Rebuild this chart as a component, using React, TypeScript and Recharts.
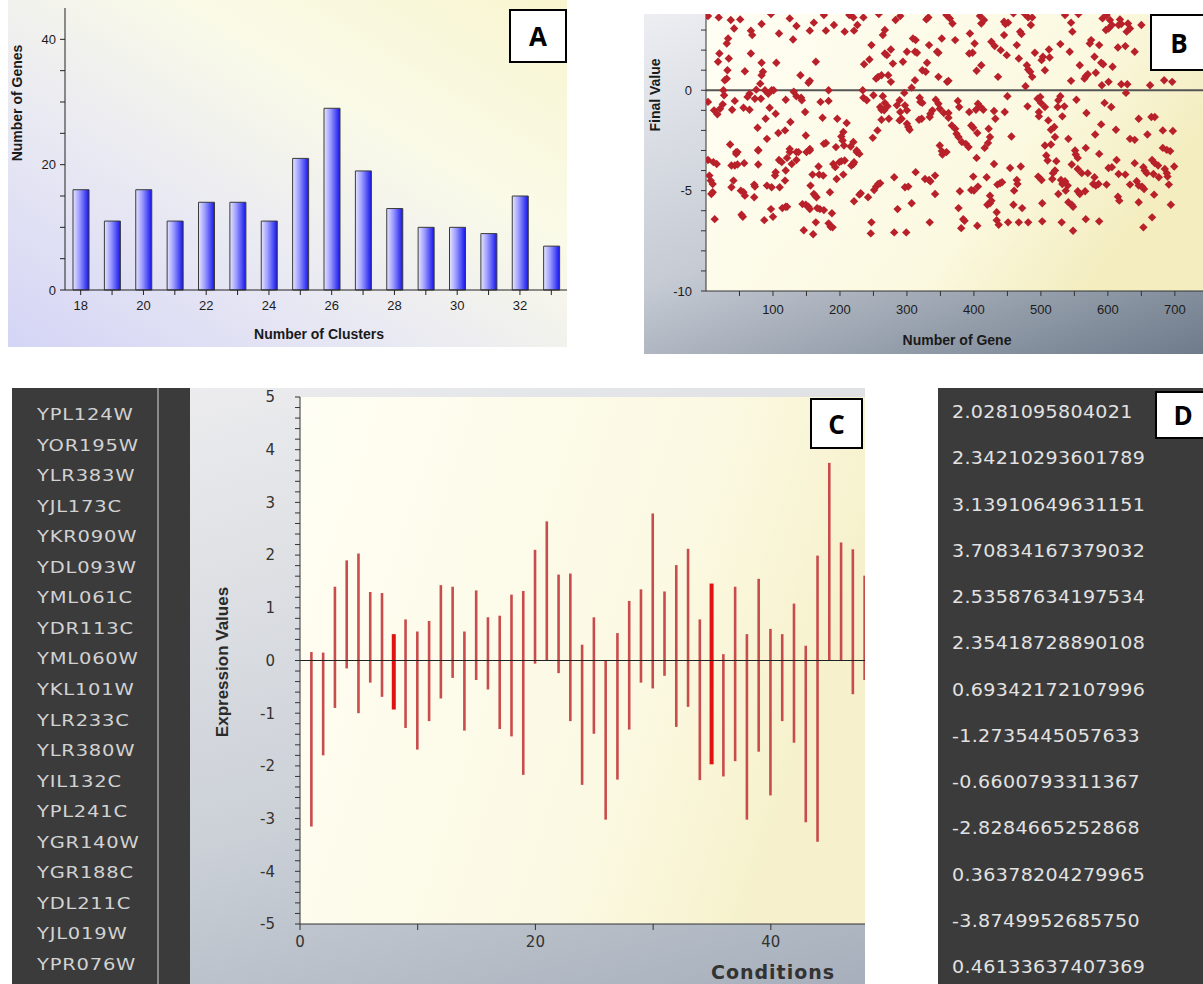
import React from 'react';
import {
  BarChart,
  Bar,
  XAxis,
  YAxis,
  ScatterChart,
  Scatter,
  ComposedChart,
  ReferenceLine,
  CartesianGrid,
  Label,
} from 'recharts';

// ---------- Panel A : genes per cluster count ----------
const clusterCounts = [18, 19, 20, 21, 22, 23, 24, 25, 26, 27, 28, 29, 30, 31, 32, 33];
const genesPerCluster = [16, 11, 16, 11, 14, 14, 11, 21, 29, 19, 13, 10, 10, 9, 15, 7];
const clusterYTicks = [0, 5, 10, 15, 20, 25, 30, 35, 40];
const clusterYLabels = [0, 20, 40];

// ---------- Panel B : final value per gene (gene index, final value) ----------
const geneScatter: [number, number][] = [
  [3, 3.7], [19, 3.63], [31, 2.33], [33, 2.58], [20, 1.83], [18, 1.42], [34, 1.58], [32, 1.0], [31, 0.58], [28, 0.5],
  [26, 0], [27, -0.25], [25, -0.7], [21, -0.92], [12, -1.0], [17, -1.2], [3, -0.58], [39, -0.97], [43, -0.53], [36, -2.7],
  [45, -3.08], [37, 3.5], [51, 3.53], [42, 3.08], [67, 2.97], [69, 2.75], [67, 1.83], [83, 3.3], [58, 0.95], [83, 1.37],
  [85, 0.92], [83, 0.75], [81, 0.33], [75, 0.03], [65, -0.17], [62, -0.33], [73, -0.42], [82, -0.42], [56, -0.87], [65, -0.97],
  [88, 0], [93, -0.17], [98, 0], [95, -0.87], [89, -1.42], [77, -1.87], [91, -2.42], [78, -2.97], [97, 3.8], [109, 2.83],
  [105, 1.37], [101, 0], [104, -1.17], [119, -0.47], [125, 3.58], [135, 3.2], [130, 2.53], [141, 0.75], [131, -0.07], [135, -0.3],
  [142, -0.37], [143, -0.5], [148, -1.08], [126, -1.58], [118, -2.0], [108, -2.13], [125, -2.92], [149, -2.25], [135, -3.08], [155, 2.97],
  [161, 3.37], [164, 1.42], [155, 0.47], [153, 0.37], [171, -0.58], [183, -0.53], [183, 0], [174, -1.37], [155, -2.92], [176, -2.67],
  [179, -2.63], [176, 3.75], [179, 2.97], [191, 3.25], [207, 2.92], [214, 3.75], [220, 3.63], [221, 2.97], [226, 3.25], [235, 3.63],
  [196, -1.42], [210, -1.63], [205, -2.08], [202, -2.3], [204, -2.5], [194, -2.83], [206, -2.75], [216, -2.8], [220, -2.58], [225, -3.0],
  [236, 1.3], [244, 1.53], [247, 2.25], [234, 0], [235, -0.37], [240, -0.5], [258, 3.8], [264, 2.75], [267, 3.0], [267, 1.83],
  [270, 1.75], [276, 2.03], [279, 1.33], [254, 0.58], [257, 0.67], [262, 0.75], [272, 0.75], [276, 0.42], [250, -0.25], [264, -0.3],
  [267, -0.63], [260, -0.83], [262, -0.97], [266, -1.0], [271, -0.8], [262, -1.47], [273, -1.42], [256, -2.0], [249, -2.37], [283, 3.5],
  [290, 3.7], [289, -0.5], [285, -0.75], [290, -1.08], [292, -1.42], [289, -1.5], [294, 1.42], [300, 1.92], [312, 1.92], [315, 1.87],
  [313, 2.5], [309, 2.58], [329, 3.53], [332, 3.63], [333, 2.25], [345, 1.92], [347, 1.87], [330, 1.37], [323, 1.0], [328, 0.92],
  [347, 0.67], [360, 0.42], [352, 2.58], [359, 3.75], [312, 0.5], [307, 0.13], [296, -0.13], [297, -0.75], [300, -1.0], [319, -0.37],
  [320, -0.58], [323, -0.63], [343, -0.47], [347, -0.67], [349, -0.92], [338, -1.0], [335, -1.17], [322, -1.42], [318, -1.47], [334, -1.33],
  [355, -1.13], [362, -1.37], [300, -1.67], [302, -1.83], [304, -1.97], [349, -2.75], [352, -3.03],
  [3, -3.47], [11, -3.58], [16, -3.67], [5, -4.25], [7, -4.5], [10, -4.67], [10, -5.08], [8, -5.17], [13, -6.42], [45, -3.17],
  [47, -3.08], [38, -3.75], [43, -3.75], [47, -3.7], [57, -3.63], [41, -4.5], [38, -4.83], [52, -5.0], [56, -5.08], [58, -5.25],
  [72, -4.7], [73, -4.8], [72, -5.33], [78, -3.7], [78, -3.0], [53, -6.2], [55, -6.3], [87, -6.47], [97, -5.92], [100, -6.3],
  [91, -4.75], [98, -4.83], [103, -4.25], [104, -4.08], [109, -3.47], [113, -3.58], [110, -4.83], [118, -4.5], [119, -4.0], [121, -3.37],
  [125, -3.08], [128, -3.67], [135, -3.47], [138, -3.08], [150, -3.08], [155, -3.0], [114, -5.87], [119, -5.8], [121, -5.8], [144, -5.67],
  [149, -5.7], [153, -5.8], [155, -5.92], [146, -6.97], [160, -7.17], [164, -6.58], [166, -5.87], [170, -5.92], [176, -5.97], [163, -5.25],
  [165, -5.33], [161, -5.17], [156, -4.75], [159, -4.2], [168, -3.8], [169, -4.2], [175, -4.25], [185, -5.08], [188, -6.13], [183, -6.63],
  [186, -6.8], [189, -6.83], [190, -3.67], [193, -3.83], [195, -4.42], [199, -3.58], [205, -4.2], [202, -3.53], [207, -3.5], [217, -3.75],
  [220, -3.67], [221, -3.58], [225, -3.08], [229, -3.17], [221, -5.53], [229, -5.2], [231, -5.13], [242, -5.33], [251, -4.97], [254, -4.8],
  [257, -4.67], [260, -4.63], [247, -6.58], [246, -7.13], [281, -4.33], [286, -5.92], [281, -7.08], [299, -7.08], [297, -4.83], [302, -4.8],
  [307, -5.63], [313, -4.08], [327, -4.42], [333, -4.47], [335, -4.53], [342, -4.25], [342, -5.17], [334, -6.58], [353, -3.2],
  [364, 3.58], [368, 3.33], [362, 0.47], [372, 2.5], [394, 2.83], [398, 1.87], [393, 1.83], [401, 2.33], [404, 0.97], [411, 1.25],
  [409, 3.7], [411, 3.33], [415, 3.5], [426, 2.42], [431, 2.2], [436, 0.67], [440, 2.0], [445, 3.42], [447, 3.3], [451, 3.37],
  [445, 2.75], [449, 1.75], [459, 3.83], [464, 2.25], [469, 2.92], [471, 2.8], [467, 1.58], [476, 3.8], [481, 3.63], [485, 3.25],
  [487, 3.63], [479, 1.25], [481, 1.03], [484, 0.92], [487, 0.67], [477, 0.2], [491, 1.87], [501, 1.5], [506, 1.0], [503, 1.67],
  [512, 2.03], [513, 1.63], [529, 2.3], [536, 3.75], [543, 1.92], [545, 3.37], [547, 2.92], [545, 0.47], [556, 3.8], [558, 1.25],
  [565, 0.58], [567, 0.7], [570, 0.8], [575, 2.5], [573, 2.33], [580, 1.67], [582, 0.87], [587, 2.25], [590, 1.37], [592, 3.58],
  [593, 1.3], [591, 0.25], [598, 3.75], [601, 0.42], [597, 3.0], [601, 3.08], [603, 3.5], [606, 3.25], [607, 1.17], [615, 2.13],
  [618, 3.53], [620, 3.3], [616, 3.25], [626, 2.2], [628, 2.92], [630, 3.33], [633, 3.08], [629, 0.3], [620, 0.3], [627, -0.13],
  [640, 1.92], [650, 3.25], [663, 0.25], [684, 0.5], [696, 0.42],
  [376, -0.53], [378, -0.83], [362, -1.13], [367, -1.75], [372, -1.92], [374, -2.17], [377, -2.33], [382, -2.58], [388, -2.67], [392, -2.83],
  [393, -1.08], [396, -1.75], [399, -1.87], [403, -0.97], [406, -0.67], [410, -0.83], [414, -0.97], [405, -2.13], [416, -2.87], [421, -2.63],
  [424, -2.33], [422, -1.92], [430, -1.03], [432, -1.42], [446, -1.08], [450, -0.3], [456, -2.3], [480, -0.8], [495, -0.42], [499, -0.33],
  [500, -0.63], [497, -1.08], [497, -1.3], [506, -0.83], [511, -1.5], [515, -1.97], [520, -1.83], [521, -2.33], [529, -0.3], [526, -0.5],
  [525, -0.83], [535, -0.8], [532, -1.3], [541, -2.42], [553, -0.47], [568, -1.13], [567, -2.87], [551, -3.0], [581, -2.2], [590, -1.7],
  [595, -0.63], [605, -0.83], [612, -1.97], [633, -2.42], [640, -2.47], [646, -1.42], [659, -2.2], [665, -1.33], [670, -1.33], [682, -2.0],
  [697, -2.03], [682, -2.87], [688, -2.97], [506, -2.75], [515, -2.7],
  [359, -3.08], [379, -5.03], [377, -5.87], [384, -6.42], [386, -6.5], [381, -6.87], [399, -4.3], [396, -4.97], [400, -5.0], [406, -4.8],
  [404, -3.37], [405, -6.75], [419, -4.33], [430, -3.67], [424, -5.25], [420, -5.7], [424, -5.63], [426, -5.5], [435, -4.7], [439, -4.63],
  [442, -4.58], [434, -6.08], [434, -6.47], [437, -6.7], [451, -6.58], [454, -3.87], [459, -5.7], [460, -5.0], [464, -4.47], [465, -4.67],
  [470, -3.8], [472, -5.87], [467, -6.58], [481, -6.58], [496, -4.3], [501, -4.47], [502, -5.63], [502, -6.53], [508, -3.25], [510, -3.5],
  [518, -4.13], [517, -4.42], [521, -4.0], [523, -3.53], [526, -5.17], [530, -4.47], [532, -4.67], [536, -4.53], [540, -4.75], [537, -5.0],
  [531, -6.58], [541, -5.58], [546, -5.7], [548, -5.8], [546, -3.7], [548, -7.0], [552, -3.2], [555, -3.37], [555, -3.92], [561, -4.13],
  [555, -5.03], [558, -5.17], [566, -5.03], [570, -4.13], [567, -6.42], [580, -4.33], [578, -4.67], [582, -4.75], [586, -4.67], [587, -6.53],
  [587, -3.17], [598, -4.7], [601, -3.87], [606, -3.83], [613, -3.47], [616, -4.17], [615, -5.3], [617, -5.5], [626, -4.2], [633, -4.7],
  [640, -3.63], [643, -4.53], [646, -4.75], [646, -5.58], [651, -4.8], [654, -4.92], [653, -3.83], [655, -4.0], [658, -4.13], [666, -3.47],
  [670, -3.63], [675, -3.75], [668, -4.17], [676, -4.33], [685, -3.92], [688, -4.13], [689, -4.3], [691, -4.7], [669, -5.2], [666, -6.33],
  [653, -6.83], [694, -5.7], [699, -3.8], [693, -3.03],
];
const geneXTicks = [50, 100, 150, 200, 250, 300, 350, 400, 450, 500, 550, 600, 650, 700];
const finalValueTicks = [-10, -9, -8, -7, -6, -5, -4, -3, -2, -1, 0, 1, 2, 3];

// ---------- Panel C : expression range per condition ----------
const conditionIds = [1, 2, 3, 4, 5, 6, 7, 8, 9, 10, 11, 12, 13, 14, 15, 16, 17, 18, 19, 20, 21, 22, 23, 24, 25, 26, 27, 28, 29, 30, 31, 32, 33, 34, 35, 36, 37, 38, 39, 40, 41, 42, 43, 44, 45, 46, 47, 48];
const exprLow = [-3.15, -1.8, -0.9, -0.15, -1.0, -0.42, -0.69, -0.93, -1.28, -1.69, -1.15, -0.72, -0.33, -1.33, -0.37, -0.55, -1.3, -1.44, -2.17, -0.06, 0, -0.24, -1.15, -2.36, -1.39, -3.02, -2.26, -1.31, -0.42, -0.53, -0.29, -1.26, -0.88, -2.27, -1.97, -2.2, -1.91, -3.02, -1.73, -2.56, -1.15, -1.56, -3.07, -3.44, 0, 0, -0.64, -0.37];
const exprHigh = [0.16, 0.15, 1.4, 1.9, 2.03, 1.3, 1.28, 0.5, 0.78, 0.55, 0.75, 1.43, 1.4, 0.55, 1.33, 0.82, 0.85, 1.25, 1.32, 2.1, 2.64, 1.63, 1.65, 0.3, 0.82, 0, 0.52, 1.13, 1.35, 2.79, 1.31, 1.81, 2.12, 0.78, 1.46, 0.12, 1.4, 0.5, 1.55, 0.6, 0.5, 1.08, 0.28, 1.99, 3.75, 2.24, 2.11, 1.61];
const highlightedConditions = [8, 35];
const conditionTicks = [0, 10, 20, 30, 40];
const conditionTopTicks = [10, 20, 30, 40];
const exprMajorTicks = [-5, -4, -3, -2, -1, 0, 1, 2, 3, 4, 5];

// ---------- Side texts ----------
const geneNames = ['YPL124W', 'YOR195W', 'YLR383W', 'YJL173C', 'YKR090W', 'YDL093W', 'YML061C', 'YDR113C', 'YML060W', 'YKL101W', 'YLR233C', 'YLR380W', 'YIL132C', 'YPL241C', 'YGR140W', 'YGR188C', 'YDL211C', 'YJL019W', 'YPR076W'];
const expressionReadout = ['2.0281095804021', '2.34210293601789', '3.13910649631151', '3.70834167379032', '2.53587634197534', '2.35418728890108', '0.69342172107996', '-1.2735445057633', '-0.6600793311367', '-2.8284665252868', '0.36378204279965', '-3.8749952685750', '0.46133637407369'];

const AXIS_FONT = '"Liberation Sans", Arial, sans-serif';

const clusterData = clusterCounts.map((c, i) => ({ clusters: c, genes: genesPerCluster[i] }));
const scatterData = geneScatter.map(([g, v]) => ({ gene: g, value: v }));
const conditionData = conditionIds.map((c, i) => ({
  cond: c,
  range: [exprLow[i], exprHigh[i]],
  highlight: highlightedConditions.includes(c),
}));
const exprMinorTicks = exprMajorTicks.flatMap((t) =>
  t < 5 ? [0, 0.2, 0.4, 0.6, 0.8].map((f) => Math.round((t + f) * 10) / 10) : [t]
);

function axisTitle(text: string, dx: number, dy: number, rotate: boolean, style: React.CSSProperties) {
  return (props: any) => {
    const vb = props.viewBox || { x: 0, y: 0 };
    const x = vb.x + dx;
    const y = vb.y + dy;
    return (
      <text
        x={x}
        y={y}
        textAnchor="middle"
        dominantBaseline="central"
        transform={rotate ? `rotate(-90 ${x} ${y})` : undefined}
        style={style}
      >
        {text}
      </text>
    );
  };
}

const Diamond = (props: any) => {
  const { cx, cy } = props;
  if (cx == null || cy == null) return null;
  const r = 4.2;
  return (
    <polygon
      points={`${cx},${cy - r} ${cx + r},${cy} ${cx},${cy + r} ${cx - r},${cy}`}
      fill="#b8202a"
    />
  );
};

const RangeStick = (props: any) => {
  const { x, y, width, height, payload } = props;
  if (x == null || y == null) return null;
  const hl = payload && payload.highlight;
  const w = hl ? 4 : 2.6;
  const top = Math.min(y, y + height);
  const h = Math.abs(height);
  const cx = x + width / 2;
  return <rect x={cx - w / 2} y={top} width={w} height={h} fill={hl ? '#e01212' : '#c94c4c'} />;
};

const PanelTag = ({ label, left, top, w, h }: { label: string; left: number; top: number; w: number; h: number }) => (
  <div
    style={{
      position: 'absolute',
      left,
      top,
      width: w,
      height: h,
      boxSizing: 'border-box',
      border: '2px solid #000',
      background: '#fff',
      display: 'flex',
      alignItems: 'center',
      justifyContent: 'center',
      fontFamily: '"Open Sans", Lato, sans-serif',
      fontWeight: 700,
      fontSize: 26,
      color: '#000',
    }}
  >
    {label}
  </div>
);

const titleStyle: React.CSSProperties = { fontFamily: AXIS_FONT, fontWeight: 700, fontSize: 14, fill: '#1a1a1a' };

export default function App() {
  return (
    <div style={{ position: 'relative', width: 1203, height: 984, overflow: 'hidden', background: '#fff' }}>
      <style>{'body{margin:0;overflow:hidden;}'}</style>

      {/* Panel A */}
      <div
        style={{
          position: 'absolute',
          left: 8,
          top: 0,
          width: 559,
          height: 347,
          background: 'linear-gradient(to top right, #d4d4f6 0%, #e9e9f3 35%, #fafae8 65%, #f8f5cf 100%)',
        }}
      >
        <BarChart width={559} height={347} data={clusterData} margin={{ top: 8, right: 0, bottom: 0, left: 0 }} barSize={16}>
          <defs>
            <linearGradient id="gradA" x1="0" y1="0" x2="1" y2="0">
              <stop offset="0%" stopColor="#e6e6ff" />
              <stop offset="40%" stopColor="#9c9cff" />
              <stop offset="100%" stopColor="#1414ec" />
            </linearGradient>
          </defs>
          <XAxis
            dataKey="clusters"
            height={57}
            interval={0}
            tickSize={5}
            tickMargin={6}
            stroke="#222"
            tickFormatter={(v: number) => (v % 2 === 0 ? String(v) : '')}
            tick={{ fill: '#1c1c1c', fontSize: 13, fontFamily: AXIS_FONT }}
          >
            <Label content={axisTitle('Number of Clusters', 254, 44, false, titleStyle)} />
          </XAxis>
          <YAxis
            type="number"
            width={57}
            domain={[0, 45]}
            ticks={clusterYTicks}
            interval={0}
            tickSize={5}
            tickMargin={4}
            stroke="#222"
            tickFormatter={(v: number) => (clusterYLabels.includes(v) ? String(v) : '')}
            tick={{ fill: '#1c1c1c', fontSize: 13, fontFamily: AXIS_FONT }}
          >
            <Label content={axisTitle('Number of Genes', 9, 95, true, titleStyle)} />
          </YAxis>
          <Bar dataKey="genes" fill="url(#gradA)" stroke="#3a3a3a" strokeWidth={1} isAnimationActive={false} />
        </BarChart>
      </div>
      <PanelTag label="A" left={509} top={9} w={58} h={54} />

      {/* Panel B */}
      <div
        style={{
          position: 'absolute',
          left: 644,
          top: 14,
          width: 559,
          height: 340,
          background: 'linear-gradient(160deg, #eceef2 0%, #c6cbd4 50%, #6e7b8b 100%)',
        }}
      >
        <ScatterChart width={559} height={340} margin={{ top: 0, right: 0, bottom: 0, left: 0 }}>
          <defs>
            <linearGradient id="plotB" x1="0" y1="0" x2="1" y2="0.4">
              <stop offset="0%" stopColor="#fffef4" />
              <stop offset="70%" stopColor="#fbf9e0" />
              <stop offset="100%" stopColor="#f3edc0" />
            </linearGradient>
          </defs>
          <CartesianGrid fill="url(#plotB)" stroke="transparent" />
          <XAxis
            type="number"
            dataKey="gene"
            domain={[0, 742]}
            ticks={geneXTicks}
            interval={0}
            allowDataOverflow
            height={63}
            tickSize={5}
            tickMargin={9}
            stroke="#333"
            tickFormatter={(v: number) => (v % 100 === 0 ? String(v) : '')}
            tick={{ fill: '#1c1c1c', fontSize: 13, fontFamily: AXIS_FONT }}
          >
            <Label content={axisTitle('Number of Gene', 251, 49, false, titleStyle)} />
          </XAxis>
          <YAxis
            type="number"
            dataKey="value"
            domain={[-10, 3.8]}
            ticks={finalValueTicks}
            interval={0}
            allowDataOverflow
            width={62}
            tickSize={5}
            tickMargin={9}
            stroke="#333"
            tickFormatter={(v: number) => (v % 5 === 0 ? String(v) : '')}
            tick={{ fill: '#1c1c1c', fontSize: 13, fontFamily: AXIS_FONT }}
          >
            <Label content={axisTitle('Final Value', 11, 81, true, titleStyle)} />
          </YAxis>
          <ReferenceLine y={0} stroke="#555" strokeWidth={2} />
          <Scatter data={scatterData} shape={Diamond} fill="#b8202a" isAnimationActive={false} />
        </ScatterChart>
      </div>
      <PanelTag label="B" left={1150} top={14} w={58} h={57} />

      {/* Panel C : gene list */}
      <div style={{ position: 'absolute', left: 12, top: 388, width: 178, height: 596, background: '#3b3b3b' }}>
        <div style={{ position: 'absolute', left: 145, top: 0, width: 2, height: 596, background: '#8a8a8a' }} />
        {geneNames.map((g, i) => (
          <div
            key={g}
            style={{
              position: 'absolute',
              left: 25,
              top: 27 + i * 30.55 - 10,
              height: 20,
              lineHeight: '20px',
              fontFamily: '"DejaVu Sans", sans-serif',
              fontSize: 15,
              letterSpacing: 0.6,
              color: '#d2d2d2',
              whiteSpace: 'nowrap',
              transform: 'scaleX(1.3)',
              transformOrigin: '0 50%',
            }}
          >
            {g}
          </div>
        ))}
      </div>

      {/* Panel C : chart */}
      <div
        style={{
          position: 'absolute',
          left: 190,
          top: 388,
          width: 675,
          height: 596,
          background: 'linear-gradient(165deg, #ececee 0%, #cbd0d7 60%, #a6afbb 100%)',
        }}
      >
        <ComposedChart width={675} height={596} data={conditionData} margin={{ top: 9, right: 0, bottom: 0, left: 0 }}>
          <defs>
            <linearGradient id="plotC" x1="0" y1="0" x2="1" y2="0.3">
              <stop offset="0%" stopColor="#fffef4" />
              <stop offset="70%" stopColor="#fbf9e2" />
              <stop offset="100%" stopColor="#f6f1cc" />
            </linearGradient>
          </defs>
          <CartesianGrid fill="url(#plotC)" stroke="transparent" />
          <XAxis
            xAxisId="top"
            orientation="top"
            type="number"
            domain={[0, 48]}
            ticks={conditionTopTicks}
            interval={0}
            height={0}
            mirror
            tick={false}
            tickSize={5}
            stroke="#333"
          />
          <XAxis
            type="number"
            dataKey="cond"
            domain={[0, 48]}
            ticks={conditionTicks}
            interval={0}
            allowDataOverflow
            height={60}
            tickSize={6}
            tickMargin={6}
            stroke="#333"
            tickFormatter={(v: number) => (v % 20 === 0 ? String(v) : '')}
            tick={{ fill: '#333', fontSize: 15, fontFamily: '"DejaVu Sans", sans-serif' }}
          >
            <Label
              content={axisTitle('Conditions', 473, 48, false, {
                fontFamily: '"DejaVu Sans", sans-serif',
                fontWeight: 700,
                fontSize: 19,
                letterSpacing: 1,
                fill: '#333',
              })}
            />
          </XAxis>
          <YAxis
            type="number"
            domain={[-5, 5]}
            ticks={exprMinorTicks}
            interval={0}
            width={110}
            tickSize={5}
            tickMargin={20}
            stroke="#333"
            tickFormatter={(v: number) => (Number.isInteger(v) ? String(v) : '')}
            tick={{ fill: '#333', fontSize: 15, fontFamily: '"DejaVu Sans", sans-serif' }}
          >
            <Label
              content={axisTitle('Expression Values', 32, 265, true, {
                fontFamily: '"Liberation Sans Narrow", "Liberation Sans", Arial, sans-serif',
                fontWeight: 700,
                fontSize: 17,
                fill: '#2a2a2a',
              })}
            />
          </YAxis>
          <ReferenceLine y={0} stroke="#222" strokeWidth={1} />
          <Bar dataKey="range" barSize={3} shape={RangeStick} isAnimationActive={false} />
        </ComposedChart>
      </div>
      <PanelTag label="C" left={810} top={398} w={53} h={51} />

      {/* Panel D */}
      <div style={{ position: 'absolute', left: 938, top: 388, width: 265, height: 596, background: '#3b3b3b' }}>
        {expressionReadout.map((s, i) => (
          <div
            key={i}
            style={{
              position: 'absolute',
              left: 14,
              top: 24 + i * 46.25 - 11,
              height: 22,
              lineHeight: '22px',
              fontFamily: '"DejaVu Sans", sans-serif',
              fontSize: 17,
              letterSpacing: 0.3,
              color: '#e2e2e2',
              whiteSpace: 'nowrap',
              transform: 'scaleX(1.12)',
              transformOrigin: '0 50%',
            }}
          >
            {s}
          </div>
        ))}
      </div>
      <PanelTag label="D" left={1155} top={391} w={56} h={48} />
    </div>
  );
}
